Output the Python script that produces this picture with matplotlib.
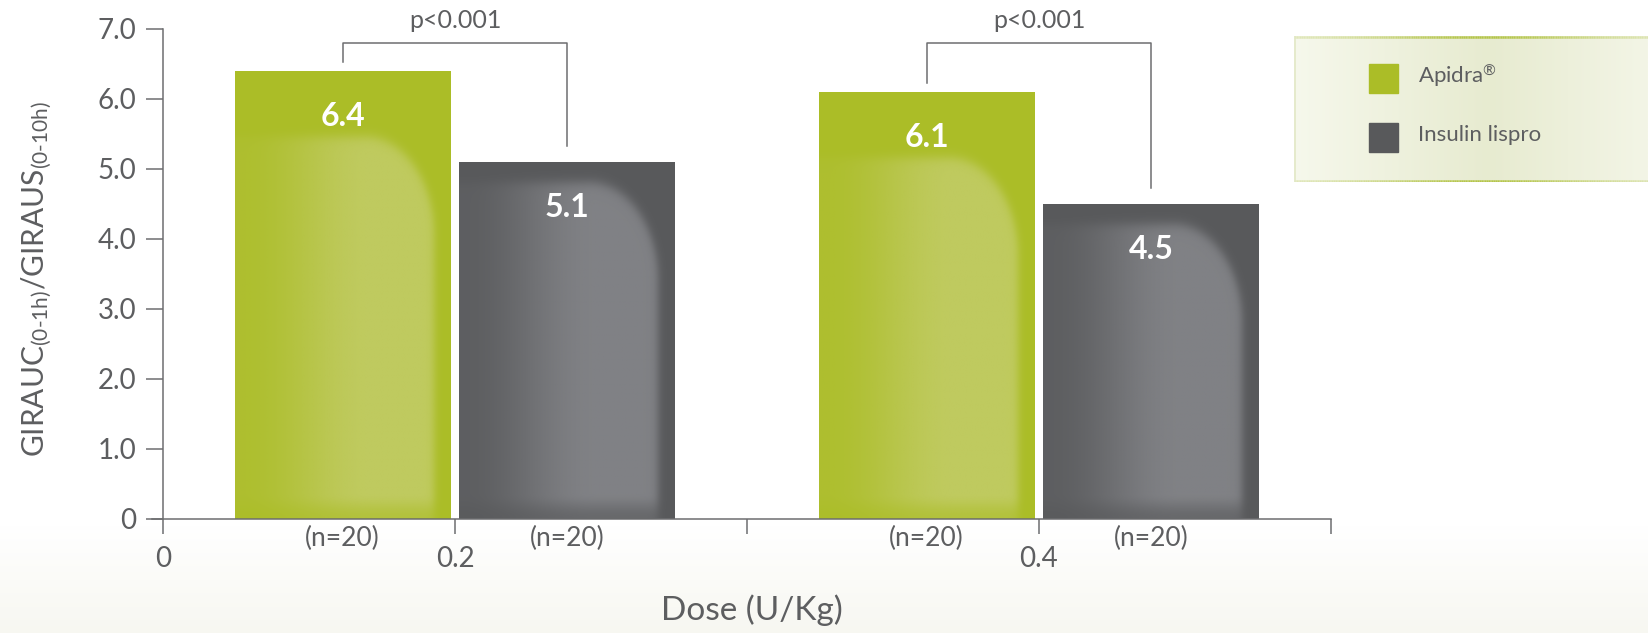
import numpy as np
import matplotlib
matplotlib.use('Agg')
import matplotlib.pyplot as plt
from matplotlib.patches import Rectangle

# datos
dosis = ['0.2', '0.4']
apidra = [6.4, 6.1]
lispro = [5.1, 4.5]
n_pacientes = ['(n=20)', '(n=20)', '(n=20)', '(n=20)']
p_valores = ['p<0.001', 'p<0.001']
series = [r'Apidra$^{®}$', 'Insulin lispro']
yticks = [0, 1, 2, 3, 4, 5, 6, 7]
ytick_labels = ['0', '1.0', '2.0', '3.0', '4.0', '5.0', '6.0', '7.0']
xticks = [0, 1, 2, 3, 4]
xtick_labels = ['0', '0.2', '', '0.4', '']

verde = '#abbd27'
verde_claro = '#c2cc66'
gris = '#58595b'
gris_claro = '#85868a'
texto = '#5d5e60'
linea = '#6d6e70'

plt.rcParams['font.family'] = ['Lato', 'DejaVu Sans']
plt.rcParams['mathtext.fontset'] = 'custom'
plt.rcParams['mathtext.rm'] = 'Lato'
plt.rcParams['mathtext.it'] = 'Lato'

W, H = 1648, 633
fig = plt.figure(figsize=(W / 100, H / 100), dpi=100)


def col(h):
    h = h.lstrip('#')
    return np.array([int(h[i:i + 2], 16) for i in (0, 2, 4)]) / 255.0


# fondo con degradado abajo
bg = fig.add_axes([0, 0, 1, 1], zorder=0)
yy = np.arange(H)
t = np.clip((yy - 525) / (H - 525), 0, 1)[:, None]
img = (1 - t) * np.array([1, 1, 1]) + t * np.array([247, 247, 241]) / 255.0
bg.imshow(img[:, None, :], extent=[0, 1, 0, 1], aspect='auto')
bg.axis('off')

# ejes principales
x_px = 292.0
ax = fig.add_axes([152 / W, (H - 518.5) / H, 1179 / W, 490 / H], zorder=2)
ax.patch.set_alpha(0)


def suave(z):
    z = np.clip(z, 0, 1)
    return z * z * (3 - 2 * z)


def brillo(ax, x0, ancho, h, claro, dtop, u1=0.92, rx=0.32, ry=1.4, fuerza=0.9):
    ny, nx = 400, 160
    u = np.linspace(0, 1, nx)[None, :]
    y = np.linspace(h, 0, ny)[:, None]
    d = h - y
    cx = u1 - rx
    cy = dtop + ry
    e = np.sqrt(np.clip((u - cx) / rx, 0, None) ** 2 + np.clip((cy - d) / ry, 0, None) ** 2)
    m = 1 / (1 + np.exp(-(1 - e) / 0.035))
    m = m * (0.15 + 0.85 * suave((u - 0.03) / 0.6))
    m = m * (0.4 + 0.6 * suave(y / 0.35))
    rgba = np.zeros((ny, nx, 4))
    rgba[..., :3] = col(claro)
    rgba[..., 3] = m * fuerza
    im = ax.imshow(rgba, extent=[x0, x0 + ancho, 0, h], aspect='auto', zorder=3,
                   interpolation='bilinear')
    return im


grupos = np.array([1, 3])
off = 0.385
ancho = 0.74
b1 = ax.bar(grupos - off, apidra, width=ancho, color=verde, zorder=2)
b2 = ax.bar(grupos + off, lispro, width=ancho, color=gris, zorder=2)
for rect in b1:
    im = brillo(ax, rect.get_x(), rect.get_width(), rect.get_height(), verde_claro, 0.95)
    im.set_clip_path(rect)
for rect in b2:
    im = brillo(ax, rect.get_x(), rect.get_width(), rect.get_height(), gris_claro, 0.3)
    im.set_clip_path(rect)
ax.set_xlim((152 - 163) / x_px, 4.0)
ax.set_ylim(0, 7)

# valores dentro de las barras
for xs, vals in ((grupos - off, apidra), (grupos + off, lispro)):
    for x, v in zip(xs, vals):
        ax.text(x, v - 0.66, f'{v:.1f}', color='white', fontsize=23, fontweight='bold',
                ha='center', va='center', zorder=5)

# (n=20)
xs_n = np.concatenate([[g - off, g + off] for g in grupos])
for x, s in zip(xs_n, n_pacientes):
    ax.text(x, -0.28, s, color=texto, fontsize=19, ha='center', va='center', clip_on=False)

# corchetes de significancia
for g, a, l, p in zip(grupos, apidra, lispro, p_valores):
    xa, xl = g - off, g + off
    ytop = 6.8
    ax.plot([xa, xa, xl, xl], [a + 0.12, ytop, ytop, l + 0.22], color=linea, lw=1.1,
            clip_on=False, zorder=4)
    ax.text((xa + xl) / 2, ytop + 0.31, p, color=texto, fontsize=18, ha='center',
            va='center', clip_on=False)

# ejes
for s in ('top', 'right'):
    ax.spines[s].set_visible(False)
ax.spines['left'].set_position(('data', 0))
for s in ('left', 'bottom'):
    ax.spines[s].set_color(linea)
    ax.spines[s].set_linewidth(1.1)
ax.set_yticks(yticks)
ax.set_yticklabels(ytick_labels)
ax.set_xticks(xticks)
ax.set_xticklabels(xtick_labels)
ax.tick_params(axis='y', length=12.2, width=1.1, color=linea, pad=7, labelsize=20, labelcolor=texto)
ax.tick_params(axis='x', length=11, width=1.1, color=linea, pad=9, labelsize=20, labelcolor=texto)

fig.text(37 / W, 1 - 279 / H, r'GIRAUC$_{\mathrm{(0\text{-}1h)}}$/GIRAUS$_{\mathrm{(0\text{-}10h)}}$',
         rotation=90, ha='center', va='center', fontsize=21.5, color=texto)
fig.text(752 / W, 1 - 610 / H, 'Dose (U/Kg)', ha='center', va='center', fontsize=24, color=texto)

# leyenda
lx0, lx1, ly0, ly1 = 1294, 1648, 36, 182
lax = fig.add_axes([lx0 / W, (H - ly1) / H, (lx1 - lx0) / W, (ly1 - ly0) / H], zorder=3)
xx = np.linspace(0, 1, 300)
c_borde = col('#f6f8ec')
c_centro = col('#e7ebd0')
c_der = col('#f3f5e6')
k = np.clip(xx / 0.55, 0, 1)[:, None]
k2 = np.clip((xx - 0.55) / 0.45, 0, 1)[:, None]
grad = np.where(xx[:, None] < 0.55, (1 - k) * c_borde + k * c_centro, (1 - k2) * c_centro + k2 * c_der)
lax.imshow(grad[None, :, :], extent=[lx0, lx1, ly1, ly0], aspect='auto')
# bordes
seg = 200
xb = np.linspace(lx0, lx1, seg)
for yb in (ly0 + 1, ly1 - 1):
    for i in range(seg - 1):
        f = np.exp(-((xb[i] - 1483) / 120.0) ** 2)
        c = (1 - f) * col('#e4eac4') + f * col('#b4c548')
        lax.plot(xb[i:i + 2], [yb, yb], color=c, lw=1.8, solid_capstyle='butt')
lax.plot([lx0 + 1, lx0 + 1], [ly0, ly1], color='#e2e8c6', lw=1.2)
lax.set_xlim(lx0, lx1)
lax.set_ylim(ly1, ly0)
lax.axis('off')
for yc, c, s in zip((78.5, 137.5), (verde, gris), series):
    lax.add_patch(Rectangle((1369, yc - 14.5), 29, 29, color=c))
    lax.text(1418, yc - 3, s, color=texto, fontsize=16, ha='left', va='center')

fig.savefig('out.png', dpi=100)
